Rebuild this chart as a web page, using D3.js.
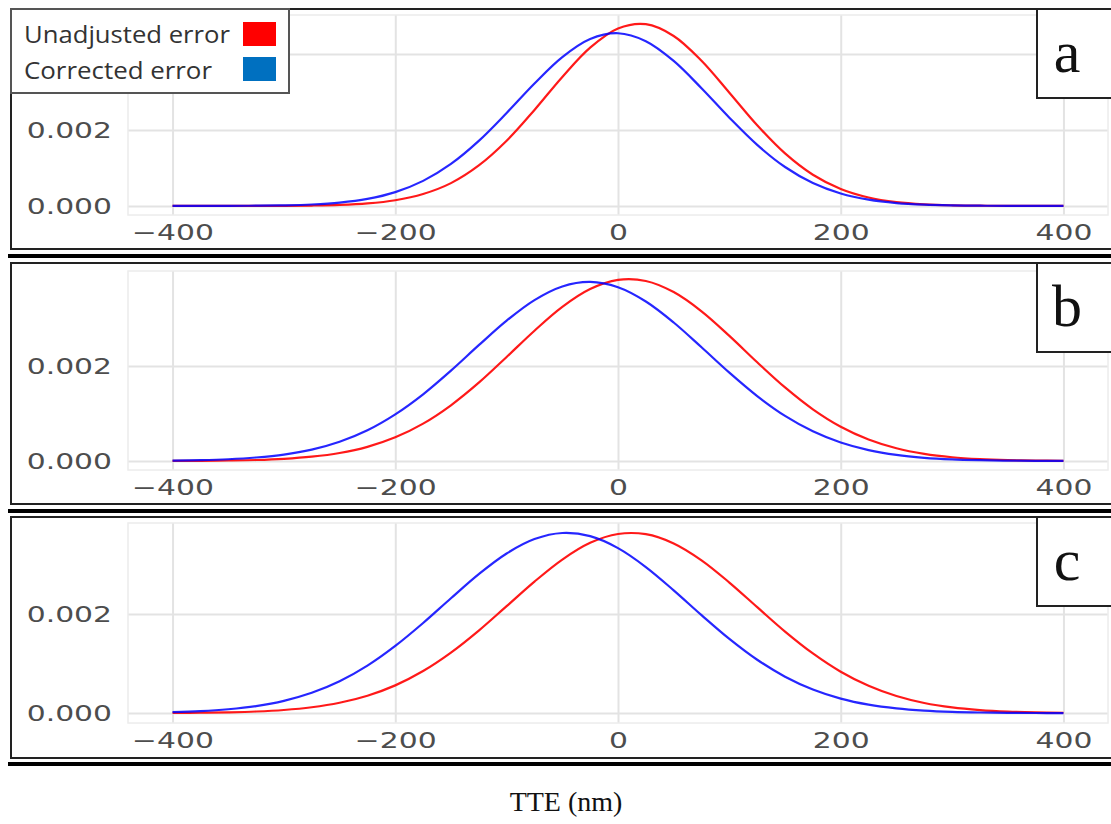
<!DOCTYPE html>
<html>
<head>
<meta charset="utf-8">
<script src="https://cdn.jsdelivr.net/npm/d3@7"></script>
<style>
  body { margin: 0; background: #fff; }
</style>
</head>
<body>
<div id="chart"></div>
<script>
// data (density vs TTE in nm)
var tte = [-400, -375, -350, -325, -300, -275, -250, -225, -200, -175, -150, -125, -100, -75, -50, -25,
           0, 25, 50, 75, 100, 125, 150, 175, 200, 225, 250, 275, 300, 325, 350, 375, 400];

var unadjustedA = [0.000000, 0.000000, 0.000000, 0.000001, 0.000003, 0.000009, 0.000025, 0.000064, 0.000148,
                   0.000313, 0.000600, 0.001066, 0.001717, 0.002528, 0.003398, 0.004170, 0.004676, 0.004788,
                   0.004478, 0.003823, 0.002982, 0.002124, 0.001382, 0.000820, 0.000445, 0.000221, 0.000100,
                   0.000042, 0.000016, 0.000005, 0.000002, 0.000001, 0.000000];
var correctedA  = [0.000000, 0.000001, 0.000002, 0.000005, 0.000015, 0.000037, 0.000085, 0.000183, 0.000363,
                   0.000659, 0.001106, 0.001713, 0.002448, 0.003225, 0.003920, 0.004397, 0.004549, 0.004340,
                   0.003820, 0.003100, 0.002324, 0.001607, 0.001024, 0.000602, 0.000327, 0.000163, 0.000075,
                   0.000032, 0.000013, 0.000005, 0.000002, 0.000001, 0.000000];

var unadjustedB = [0.000002, 0.000004, 0.000010, 0.000021, 0.000045, 0.000090, 0.000168, 0.000298, 0.000498,
                   0.000787, 0.001173, 0.001648, 0.002190, 0.002743, 0.003244, 0.003619, 0.003812, 0.003790,
                   0.003556, 0.003151, 0.002634, 0.002078, 0.001548, 0.001088, 0.000721, 0.000452, 0.000267,
                   0.000149, 0.000078, 0.000039, 0.000018, 0.000008, 0.000003];
var correctedB  = [0.000008, 0.000017, 0.000036, 0.000073, 0.000134, 0.000239, 0.000405, 0.000647, 0.000982,
                   0.001404, 0.001902, 0.002438, 0.002955, 0.003388, 0.003675, 0.003770, 0.003658, 0.003358,
                   0.002916, 0.002394, 0.001859, 0.001366, 0.000950, 0.000625, 0.000389, 0.000229, 0.000127,
                   0.000067, 0.000033, 0.000016, 0.000007, 0.000003, 0.000001];

var unadjustedC = [0.000003, 0.000007, 0.000016, 0.000032, 0.000063, 0.000118, 0.000209, 0.000351, 0.000560,
                   0.000849, 0.001221, 0.001666, 0.002160, 0.002656, 0.003101, 0.003439, 0.003618, 0.003614,
                   0.003427, 0.003086, 0.002637, 0.002140, 0.001647, 0.001205, 0.000836, 0.000551, 0.000344,
                   0.000204, 0.000115, 0.000062, 0.000031, 0.000015, 0.000007];
var correctedC  = [0.000020, 0.000040, 0.000078, 0.000142, 0.000248, 0.000410, 0.000644, 0.000959, 0.001357,
                   0.001820, 0.002320, 0.002807, 0.003224, 0.003515, 0.003638, 0.003574, 0.003333, 0.002951,
                   0.002480, 0.001979, 0.001499, 0.001078, 0.000736, 0.000477, 0.000293, 0.000171, 0.000095,
                   0.000050, 0.000025, 0.000012, 0.000005, 0.000002, 0.000001];

var panelLabels = ["a", "b", "c"];
var xTicks = [-400, -200, 0, 200, 400];
var yGridTicks = [0, 0.002, 0.004];
var yLabelTicks = [0, 0.002];   // the 0.004 label is not shown (covered / cut off)
var seriesNames = ["Unadjusted error", "Corrected error"];
var xTitle = "TTE (nm)";

// layout
var W = 1111, H = 824;
var plotLeft = 128, plotRight = 1108;
var panels = [
  {label: panelLabels[0], unadj: unadjustedA, corr: correctedA, boxTop: 9,   boxBottom: 249, plotTop: 15,  plotBottom: 215, yDomain: [-0.00024, 0.00503], sep: 256},
  {label: panelLabels[1], unadj: unadjustedB, corr: correctedB, boxTop: 263, boxBottom: 504, plotTop: 271, plotBottom: 470, yDomain: [-0.00019, 0.00400], sep: 511},
  {label: panelLabels[2], unadj: unadjustedC, corr: correctedC, boxTop: 517, boxBottom: 758, plotTop: 523, plotBottom: 723, yDomain: [-0.00020, 0.00384], sep: 764}
];

var svg = d3.select("#chart")
  .append("svg")
    .attr("width", W)
    .attr("height", H)
    .style("display", "block");

svg.append("rect").attr("width", W).attr("height", H).attr("fill", "#fff");

var x = d3.scaleLinear().domain([-440, 440]).range([plotLeft, plotRight]);
var sx = 1.42; // tick text is stretched sideways in the original

panels.forEach(function(p) {
  var g = svg.append("g");
  var y = d3.scaleLinear().domain(p.yDomain).range([p.plotBottom, p.plotTop]);
  var gridY = yGridTicks.filter(function(d) { return d >= p.yDomain[0] && d < p.yDomain[1] - 1e-6; });

  // outer frame
  g.append("rect")
    .attr("x", 11).attr("y", p.boxTop)
    .attr("width", W + 20).attr("height", p.boxBottom - p.boxTop)
    .attr("fill", "none").attr("stroke", "#222").attr("stroke-width", 2);

  // grid
  g.append("g")
    .attr("transform", "translate(0," + p.plotBottom + ")")
    .call(d3.axisBottom(x).tickValues(xTicks).tickSize(-(p.plotBottom - p.plotTop)).tickFormat(""))
    .call(function(a) { a.select(".domain").remove(); })
    .selectAll("line").attr("stroke", "#e3e3e3").attr("stroke-width", 2);
  g.append("g")
    .attr("transform", "translate(" + plotLeft + ",0)")
    .call(d3.axisLeft(y).tickValues(gridY).tickSize(-(plotRight - plotLeft)).tickFormat(""))
    .call(function(a) { a.select(".domain").remove(); })
    .selectAll("line").attr("stroke", "#e3e3e3").attr("stroke-width", 2);

  g.append("rect")
    .attr("x", plotLeft).attr("y", p.plotTop)
    .attr("width", plotRight - plotLeft).attr("height", p.plotBottom - p.plotTop)
    .attr("fill", "none").attr("stroke", "#ececec").attr("stroke-width", 1.5);

  // tick labels
  var xa = g.append("g")
    .attr("transform", "translate(0," + p.plotBottom + ")")
    .call(d3.axisBottom(x).tickValues(xTicks).tickSize(0).tickFormat(d3.format("d")));
  xa.select(".domain").remove();
  xa.selectAll("text")
    .attr("y", 25).attr("dy", null)
    .attr("transform", "scale(" + sx + ",1)")
    .attr("font-family", "DejaVu Sans").attr("font-size", 21).attr("fill", "#4d4d4d");

  var ya = g.append("g")
    .attr("transform", "translate(" + plotLeft + ",0)")
    .call(d3.axisLeft(y).tickValues(yLabelTicks).tickSize(0).tickFormat(d3.format(".3f")));
  ya.select(".domain").remove();
  ya.selectAll("text")
    .attr("x", -16 / sx).attr("dy", "0.36em")
    .attr("transform", "scale(" + sx + ",1)")
    .attr("font-family", "DejaVu Sans").attr("font-size", 21).attr("fill", "#4d4d4d");

  // curves
  var line = d3.line()
    .x(function(d, i) { return x(tte[i]) })
    .y(function(d) { return y(d) })
    .curve(d3.curveCatmullRom);

  g.append("path")
    .attr("d", line(p.unadj))
    .attr("fill", "none").attr("stroke", "#ff0000").attr("stroke-width", 2.2).attr("opacity", 0.9);
  g.append("path")
    .attr("d", line(p.corr))
    .attr("fill", "none").attr("stroke", "#0000ff").attr("stroke-width", 2.2).attr("opacity", 0.85);

  // panel letter box
  g.append("rect")
    .attr("x", 1037).attr("y", p.boxTop)
    .attr("width", 100).attr("height", 89)
    .attr("fill", "#fff").attr("stroke", "#222").attr("stroke-width", 2);
  g.append("text")
    .attr("x", 1067).attr("y", p.boxTop + 63)
    .attr("text-anchor", "middle")
    .attr("font-family", "Liberation Serif").attr("font-size", 60).attr("fill", "#111")
    .text(p.label);

  // heavy separator under each panel
  svg.append("line")
    .attr("x1", 8).attr("x2", W)
    .attr("y1", p.sep).attr("y2", p.sep)
    .attr("stroke", "#000").attr("stroke-width", 4);
});

// legend
var lg = svg.append("g");
lg.append("rect")
  .attr("x", 11).attr("y", 9).attr("width", 278).attr("height", 84)
  .attr("fill", "#fff").attr("stroke", "#555").attr("stroke-width", 2);
var swatch = ["#ff0000", "#0070c0"];
seriesNames.forEach(function(name, i) {
  lg.append("text")
    .attr("x", 24).attr("y", 43 + i * 36)
    .attr("font-family", "Open Sans").attr("font-size", 24).attr("fill", "#333")
    .attr("textLength", i === 0 ? 206 : 188).attr("lengthAdjust", "spacingAndGlyphs")
    .text(name);
  lg.append("rect")
    .attr("x", 243).attr("y", 22 + i * 35).attr("width", 33).attr("height", 24)
    .attr("fill", swatch[i]);
});

// axis title
svg.append("text")
  .attr("x", 566).attr("y", 811)
  .attr("text-anchor", "middle")
  .attr("font-family", "Liberation Serif").attr("font-size", 28).attr("fill", "#111")
  .text(xTitle);
</script>
</body>
</html>
